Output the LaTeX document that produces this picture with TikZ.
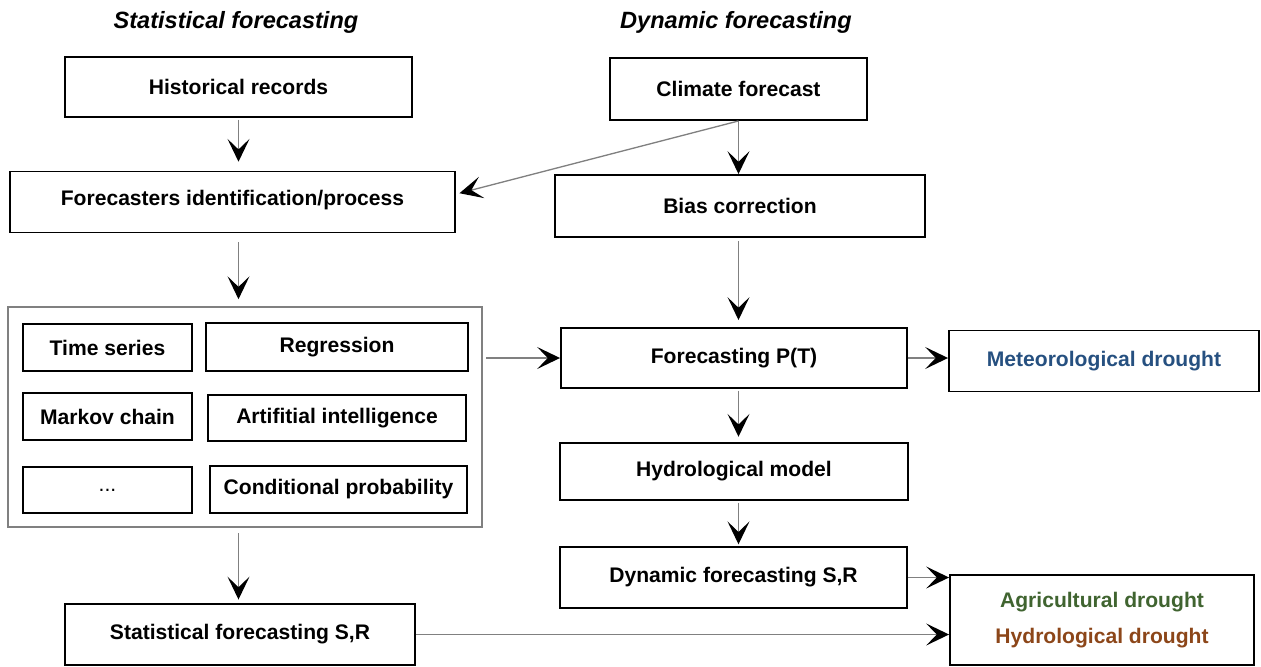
\documentclass[tikz,border=0pt]{standalone}
\usepackage{fontspec}
\setmainfont{Liberation Sans}
\usetikzlibrary{arrows.meta}
\definecolor{MetBlue}{RGB}{38,80,128}
\definecolor{AgriGreen}{RGB}{64,100,48}
\definecolor{HydroBrown}{RGB}{140,70,25}

\begin{document}
\begin{tikzpicture}[x=0.02cm, y=-0.02cm,
    box/.style={draw=black, line width=1.1pt, inner sep=0pt, align=center, font=\fontsize{12}{14}\selectfont\bfseries},
    group/.style={draw=gray, line width=0.9pt, inner sep=0pt},
    title/.style={font=\fontsize{13.4}{16}\selectfont\bfseries\itshape},
    flow/.style={draw=gray, line width=0.75pt, -{Stealth[black, length=13pt, width=12.5pt, inset=6pt]}}]
    \newcommand*{\unit}{0.02cm}
    \useasboundingbox (0,0) rectangle (1261,666);
    % column titles
    \node[title] (stattitle) at (236,22) {Statistical forecasting};
    \node[title] (dyntitle) at (736,22) {Dynamic forecasting};
    % statistical branch
    \node[box, minimum width=347*\unit, minimum height=60*\unit] (hist) at (238.5,87) {Historical records};
    \node[box, minimum width=445*\unit, minimum height=61*\unit] (ident) at (232.5,202) {\raisebox{5pt}{Forecasters identification/process}};
    \node[group, minimum width=474*\unit, minimum height=220*\unit] (methods) at (245,417) {};
    \node[box, minimum width=169*\unit, minimum height=47*\unit] (tseries) at (107.5,347.5) {Time series};
    \node[box, minimum width=262*\unit, minimum height=48*\unit] (regr) at (337,347) {Regression};
    \node[box, minimum width=169*\unit, minimum height=47*\unit] (markov) at (107.5,416.5) {Markov chain};
    \node[box, minimum width=258*\unit, minimum height=46*\unit] (ai) at (337,418) {Artifitial intelligence};
    \node[box, minimum width=169*\unit, minimum height=46*\unit, font=\fontsize{12}{14}\selectfont] (others) at (107.5,490) {...};
    \node[box, minimum width=257*\unit, minimum height=47*\unit] (condprob) at (338.5,489.5) {Conditional probability};
    \node[box, minimum width=350*\unit, minimum height=61*\unit] (statsr) at (240,634.5) {Statistical forecasting S,R};
    % dynamic branch
    \node[box, minimum width=257*\unit, minimum height=62*\unit] (climate) at (738.5,89) {Climate forecast};
    \node[box, minimum width=370*\unit, minimum height=62*\unit] (bias) at (740,206) {Bias correction};
    \node[box, minimum width=346*\unit, minimum height=60*\unit] (fpt) at (734,358) {Forecasting P(T)};
    \node[box, minimum width=348*\unit, minimum height=57*\unit] (hydmodel) at (734,471.5) {Hydrological model};
    \node[box, minimum width=347*\unit, minimum height=61*\unit] (dynsr) at (733.5,577.5) {Dynamic forecasting S,R};
    % drought types
    \node[box, minimum width=310*\unit, minimum height=61*\unit, text=MetBlue] (meteo) at (1104,361) {Meteorological drought};
    \node[box, minimum width=304*\unit, minimum height=90*\unit, font=\fontsize{12}{20.4}\selectfont\bfseries] (drought) at (1102,620)
        {\textcolor{AgriGreen}{Agricultural drought}\\\textcolor{HydroBrown}{Hydrological drought}};
    % connectors
    \draw[flow, shorten <=1pt, shorten >=5pt] (hist.south) -- (hist.south |- ident.north);
    \draw[flow, shorten <=5pt, shorten >=4pt] (hist.south |- ident.south) -- (hist.south |- methods.north);
    \draw[flow, shorten <=3pt, shorten >=2pt] (hist.south |- methods.south) -- (hist.south |- statsr.north);
    \draw[flow] (climate.south) -- (climate.south |- bias.north);
    \draw[flow] (climate.south) -- ([xshift=2pt, yshift=5pt]ident.east);
    \draw[flow, shorten <=2pt, shorten >=4pt] (bias.south -| climate.south) -- (fpt.north -| climate.south);
    \draw[flow, shorten <=2pt] (methods.east |- fpt.west) -- (fpt.west);
    \draw[flow] (fpt.east) -- (fpt.east -| meteo.west);
    \draw[flow, shorten <=1pt, shorten >=3pt] (fpt.south -| climate.south) -- (hydmodel.north -| climate.south);
    \draw[flow, shorten <=1pt, shorten >=1pt] (hydmodel.south -| climate.south) -- (dynsr.north -| climate.south);
    \draw[flow] (dynsr.east) -- (dynsr.east -| drought.west);
    \draw[flow] (statsr.east) -- (statsr.east -| drought.west);
\end{tikzpicture}
\end{document}
